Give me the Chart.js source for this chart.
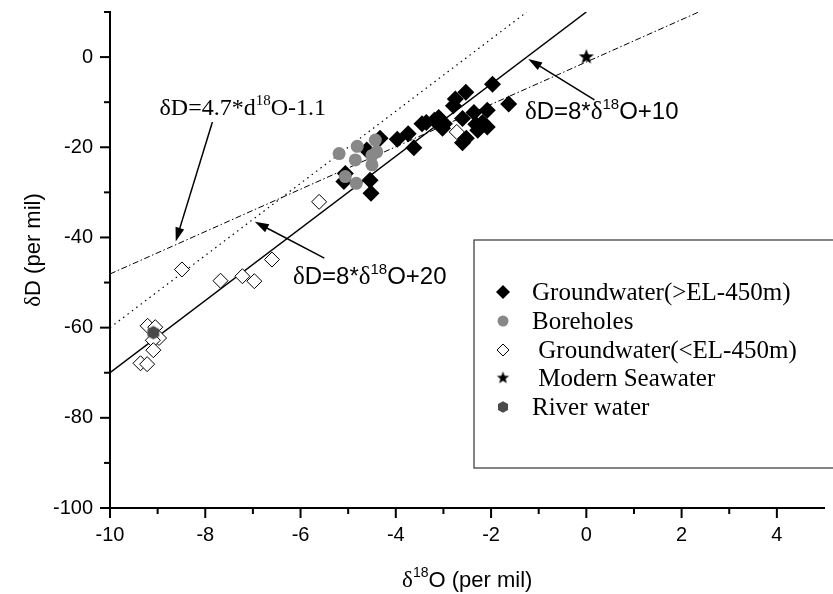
<!DOCTYPE html>
<html><head><meta charset="utf-8">
<script src="https://cdn.jsdelivr.net/npm/chart.js@4/dist/chart.umd.min.js"></script>
<style>html,body{margin:0;padding:0;background:#fff}</style>
</head><body>
<canvas id="c" width="833" height="594"></canvas>
<script>
// ---- data ----
const xTickLabels = [-10, -8, -6, -4, -2, 0, 2, 4];
const yTickLabels = [0, -20, -40, -60, -80, -100];

const gwAboveX = [-5.06,-5.09,-4.61,-4.54,-4.52,-4.33,-3.97,-3.74,-3.62,-3.45,-3.36,-3.19,-3.10,-2.98,-3.02,-2.79,-2.75,-2.53,-1.97,-1.63,-2.60,-2.36,-2.18,-2.08,-2.32,-2.08,-2.60,-2.52,-2.28];
const gwAboveY = [-25.8,-27.6,-20.6,-27.3,-30.2,-18.0,-18.2,-17.0,-20.1,-14.8,-14.5,-14.0,-13.4,-14.8,-15.8,-10.8,-9.3,-7.8,-6.0,-10.4,-13.6,-12.3,-14.5,-11.8,-14.9,-15.5,-19.0,-18.0,-16.2];

const boreX = [-5.19,-4.81,-4.43,-4.40,-4.50,-4.85,-4.50,-5.06,-4.83];
const boreY = [-21.4,-19.8,-18.4,-21.0,-21.8,-22.8,-23.9,-26.5,-28.0];

const gwBelowX = [-9.21,-9.05,-8.97,-9.10,-9.09,-9.36,-9.22,-8.49,-7.68,-7.22,-6.97,-6.60,-5.61,-2.72];
const gwBelowY = [-59.6,-59.9,-62.3,-62.8,-65.0,-67.9,-68.1,-47.1,-49.6,-48.6,-49.7,-44.9,-32.1,-16.6];

const seaX = [0];
const seaY = [0];
const riverX = [-9.09];
const riverY = [-61.1];

// reference lines (end points)
const line10X = [-10, 0];      const line10Y = [-70, 10];     // dD = 8*d18O + 10
const line20X = [-10, -1.25];  const line20Y = [-60, 10];     // dD = 8*d18O + 20
const localX  = [-10, 2.36];   const localY  = [-48.1, 10];   // dD = 4.7*d18O - 1.1

const seriesNames = ['Groundwater(>EL-450m)', 'Boreholes', ' Groundwater(<EL-450m)', ' Modern Seawater', 'River water'];

// arrows [tailX, tailY, tipX, tipY] in data units
const arrowsData = [
  [-7.85, -14.4, -8.62, -40.9],
  [-5.50, -44.6, -6.96, -36.5],
  [0.17, -9.5, -1.22, -0.4]
];

const pts = (xs, ys) => xs.map((v, i) => ({x: v, y: ys[i]}));

// ---- custom point images ----
function starImg(r, color){
  const c = document.createElement('canvas'); c.width = c.height = Math.ceil(r*2+2);
  const g = c.getContext('2d'); const cx = c.width/2, cy = c.height/2;
  g.beginPath();
  for (let i = 0; i < 10; i++){
    const rr = i % 2 ? r*0.42 : r; const a = -Math.PI/2 + i*Math.PI/5;
    g.lineTo(cx + rr*Math.cos(a), cy + rr*Math.sin(a));
  }
  g.closePath(); g.fillStyle = color; g.fill(); return c;
}
function hexImg(r, color){
  const c = document.createElement('canvas'); c.width = c.height = Math.ceil(r*2+2);
  const g = c.getContext('2d'); const cx = c.width/2, cy = c.height/2;
  g.beginPath();
  for (let i = 0; i < 6; i++){ const a = Math.PI/6 + i*Math.PI/3; g.lineTo(cx + r*Math.cos(a), cy + r*Math.sin(a)); }
  g.closePath(); g.fillStyle = color; g.fill(); return c;
}
const starPlot = starImg(8, '#000'), starLeg = starImg(6.5, '#000');
const hexPlot = hexImg(6.8, '#4a4a4a'), hexLeg = hexImg(5.8, '#4a4a4a');

// ---- helpers for decoration ----
function rich(ctx, segs, x, y, align){
  let w = 0; segs.forEach(s => { ctx.font = s[1]; w += ctx.measureText(s[0]).width; });
  let cx = align === 'center' ? x - w/2 : (align === 'right' ? x - w : x);
  ctx.textAlign = 'left'; ctx.textBaseline = 'alphabetic';
  segs.forEach(s => { ctx.font = s[1]; ctx.fillText(s[0], cx, y + (s[2] || 0)); cx += ctx.measureText(s[0]).width; });
}
function arrow(ctx, x1, y1, x2, y2){
  const a = Math.atan2(y2 - y1, x2 - x1), L = 14, W = 4.5, c = Math.cos(a), s = Math.sin(a);
  ctx.beginPath(); ctx.moveTo(x1, y1); ctx.lineTo(x2 - c*L*0.7, y2 - s*L*0.7); ctx.lineWidth = 1.5; ctx.stroke();
  ctx.beginPath(); ctx.moveTo(x2, y2);
  ctx.lineTo(x2 - c*L + s*W, y2 - s*L - c*W);
  ctx.lineTo(x2 - c*L - s*W, y2 - s*L + c*W);
  ctx.closePath(); ctx.fill();
}
function diamond(ctx, x, y, r, fill){
  ctx.beginPath(); ctx.moveTo(x, y - r); ctx.lineTo(x + r, y); ctx.lineTo(x, y + r); ctx.lineTo(x - r, y); ctx.closePath();
  if (fill){ ctx.fillStyle = '#000'; ctx.fill(); } else { ctx.fillStyle = '#fff'; ctx.fill(); ctx.lineWidth = 1; ctx.strokeStyle = '#000'; ctx.stroke(); }
}

const SERIF = '"Liberation Serif", "Times New Roman", serif';
const SANS = '"Liberation Sans", Arial, sans-serif';

const decor = {
  id: 'decor',
  afterDraw(chart){
    const {ctx, chartArea: a, scales: {x, y}} = chart;
    ctx.save();
    ctx.strokeStyle = '#000'; ctx.fillStyle = '#000'; ctx.lineWidth = 2;
    // tick marks (major labelled, minor unlabelled)
    for (let v = -10; v < 5; v++){
      const px = x.getPixelForValue(v), len = xTickLabels.includes(v) ? 10 : 6;
      ctx.beginPath(); ctx.moveTo(px, a.bottom); ctx.lineTo(px, a.bottom + len); ctx.stroke();
    }
    for (let v = -100; v <= 10; v += 10){
      const py = y.getPixelForValue(v), len = yTickLabels.includes(v) ? 10 : 6;
      ctx.beginPath(); ctx.moveTo(a.left, py); ctx.lineTo(a.left - len, py); ctx.stroke();
    }
    // arrows
    arrowsData.forEach(d => arrow(ctx, x.getPixelForValue(d[0]), y.getPixelForValue(d[1]), x.getPixelForValue(d[2]), y.getPixelForValue(d[3])));
    // equation labels
    rich(ctx, [['δD=4.7*d', '24px ' + SERIF], ['18', '15px ' + SERIF, -10], ['O-1.1', '24px ' + SERIF]],
      x.getPixelForValue(-8.96), y.getPixelForValue(-12.9), 'left');
    rich(ctx, [['δ', '25px ' + SERIF], ['D=8*', '24px ' + SANS], ['δ', '25px ' + SERIF], ['18', '15px ' + SANS, -10], ['O+10', '24px ' + SANS]],
      x.getPixelForValue(-1.29), y.getPixelForValue(-13.7), 'left');
    rich(ctx, [['δ', '25px ' + SERIF], ['D=8*', '24px ' + SANS], ['δ', '25px ' + SERIF], ['18', '15px ' + SANS, -10], ['O+20', '24px ' + SANS]],
      x.getPixelForValue(-6.16), y.getPixelForValue(-50.3), 'left');
    // axis titles
    rich(ctx, [['δ', '23px ' + SERIF], ['18', '14px ' + SANS, -10], ['O (per mil)', '22px ' + SANS]], (a.left + a.right)/2, 587, 'center');
    ctx.save(); ctx.translate(40, 250); ctx.rotate(-Math.PI/2);
    rich(ctx, [['δ', '23px ' + SERIF], ['D (per mil)', '22px ' + SANS]], 0, 0, 'center');
    ctx.restore();
    // legend box
    const lx = 474, ly = 240, lh = 228;
    ctx.lineWidth = 1.2; ctx.strokeStyle = '#333';
    ctx.strokeRect(lx, ly, 400, lh);
    const mx = 503, tx = 532, rows = [292, 321, 350, 378, 407];
    diamond(ctx, mx, rows[0], 7, true);
    ctx.beginPath(); ctx.arc(mx, rows[1], 5.5, 0, Math.PI*2); ctx.fillStyle = '#888'; ctx.fill();
    diamond(ctx, mx, rows[2], 6, false);
    ctx.drawImage(starLeg, mx - starLeg.width/2, rows[3] - starLeg.height/2);
    ctx.drawImage(hexLeg, mx - hexLeg.width/2, rows[4] - hexLeg.height/2);
    ctx.fillStyle = '#000'; ctx.font = '25px ' + SERIF; ctx.textAlign = 'left'; ctx.textBaseline = 'alphabetic';
    seriesNames.forEach((n, i) => ctx.fillText(n, tx, rows[i] + 8));
    ctx.restore();
  }
};

new Chart(document.getElementById('c'), {
  type: 'scatter',
  data: {
    datasets: [
      {label: 'dD=8*d18O+10', data: pts(line10X, line10Y), showLine: true, pointRadius: 0, borderColor: '#000', borderWidth: 1.5, order: 10},
      {label: 'dD=8*d18O+20', data: pts(line20X, line20Y), showLine: true, pointRadius: 0, borderColor: '#000', borderWidth: 1.2, borderDash: [1.5, 4], order: 10},
      {label: 'dD=4.7*d18O-1.1', data: pts(localX, localY), showLine: true, pointRadius: 0, borderColor: '#000', borderWidth: 1, borderDash: [6, 2.5, 1.5, 2.5], order: 10},
      {label: seriesNames[0], data: pts(gwAboveX, gwAboveY), pointStyle: 'rectRot', pointRadius: 8.5, backgroundColor: '#000', borderColor: '#000', borderWidth: 0, order: 5},
      {label: seriesNames[1], data: pts(boreX, boreY), pointStyle: 'circle', pointRadius: 6.5, backgroundColor: '#888', borderColor: '#888', borderWidth: 0, order: 4},
      {label: seriesNames[2], data: pts(gwBelowX, gwBelowY), pointStyle: 'rectRot', pointRadius: 7.5, backgroundColor: '#fff', borderColor: '#000', borderWidth: 1, order: 3},
      {label: seriesNames[3], data: pts(seaX, seaY), pointStyle: starPlot, order: 2},
      {label: seriesNames[4], data: pts(riverX, riverY), pointStyle: hexPlot, order: 1}
    ]
  },
  options: {
    responsive: false, animation: false, devicePixelRatio: 1,
    layout: {padding: {top: 12, right: 0, left: 0, bottom: 0}},
    plugins: {legend: {display: false}, tooltip: {enabled: false}},
    scales: {
      x: {
        type: 'linear', min: -10, max: 5,
        afterFit(s){ s.height = 86; s.paddingLeft = 0; s.paddingRight = 0; },
        grid: {display: false, drawTicks: false},
        border: {display: true, color: '#000', width: 2},
        ticks: {stepSize: 1, autoSkip: false, maxRotation: 0, padding: 15, color: '#000',
          font: {family: SANS, size: 20},
          callback: v => xTickLabels.includes(v) ? String(v) : ''}
      },
      y: {
        type: 'linear', min: -100, max: 10,
        afterFit(s){ s.width = 110; s.paddingTop = 0; s.paddingBottom = 0; },
        grid: {display: false, drawTicks: false},
        border: {display: true, color: '#000', width: 2},
        ticks: {stepSize: 10, autoSkip: false, padding: 17, color: '#000',
          font: {family: SANS, size: 20},
          callback: v => yTickLabels.includes(v) ? String(v) : ''}
      }
    }
  },
  plugins: [decor]
});
</script>
</body></html>
